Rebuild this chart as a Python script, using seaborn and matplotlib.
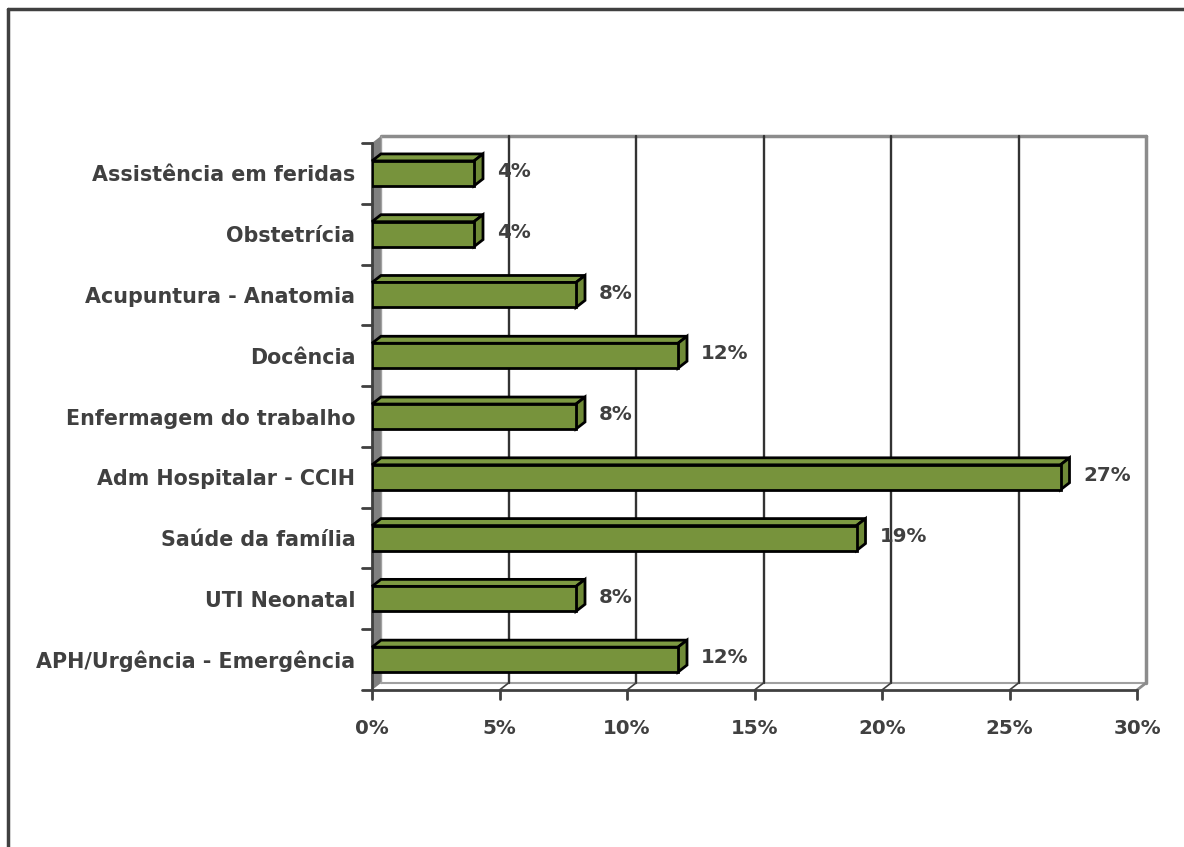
import numpy as np
import pandas as pd
import matplotlib
matplotlib.use("Agg")
import matplotlib.pyplot as plt
import seaborn as sns
from matplotlib.patches import Polygon
from matplotlib.lines import Line2D

# Data (top to bottom as shown)
categories = ["Assistência em feridas", "Obstetrícia", "Acupuntura - Anatomia",
              "Docência", "Enfermagem do trabalho", "Adm Hospitalar - CCIH",
              "Saúde da família", "UTI Neonatal", "APH/Urgência - Emergência"]
values = [4, 4, 8, 12, 8, 27, 19, 8, 12]
x_ticks = [0, 5, 10, 15, 20, 25, 30]

df = pd.DataFrame({"area": categories, "pct": values})

sns.set_style("white")
plt.rcParams["font.family"] = ["DejaVu Sans"]

W, H = 1184, 847
fig = plt.figure(figsize=(W / 100, H / 100), dpi=100)
ax = fig.add_axes([372 / W, 1 - 690 / H, (1137 - 372) / W, (690 - 143) / H])

green = "#77933C"
text_col = "#404040"
fs = 14.3
bar_h = 0.41

sns.barplot(data=df, x="pct", y="area", order=categories, orient="h",
            color=green, width=bar_h, saturation=1, edgecolor="black",
            linewidth=2, ax=ax, zorder=5)

ax.set_xlim(0, 30)
ax.set_ylim(len(categories) - 0.5, -0.5)
for s in ax.spines.values():
    s.set_visible(False)

# depth of the 3D look, in data units
ax_w = (1137 - 372)
ax_h = (690 - 143)
dx = 9 / ax_w * 30
dy = 7 / ax_h * len(categories)
y_bot, y_top = len(categories) - 0.5, -0.5

# side wall (gray strip on the left)
ax.add_patch(Polygon([(0, y_bot), (dx, y_bot - dy), (dx, y_top - dy), (0, y_top)],
                     closed=True, facecolor="#808080", edgecolor="none",
                     clip_on=False, zorder=1))
# back wall frame
ax.add_line(Line2D([dx, 30 + dx], [y_top - dy, y_top - dy], color="#8c8c8c", lw=2.5, clip_on=False, zorder=2))
ax.add_line(Line2D([30 + dx, 30 + dx], [y_top - dy, y_bot - dy], color="#8c8c8c", lw=2.5, clip_on=False, zorder=2))
ax.add_line(Line2D([dx, dx], [y_top - dy, y_bot - dy], color="#a0a0a0", lw=1, clip_on=False, zorder=2))
# floor
ax.add_line(Line2D([dx, 30 + dx], [y_bot - dy, y_bot - dy], color="#a0a0a0", lw=1.5, clip_on=False, zorder=2))
ax.add_line(Line2D([30, 30 + dx], [y_bot, y_bot - dy], color="#8c8c8c", lw=2, clip_on=False, zorder=2))
# gridlines on the back wall
for t in x_ticks[1:-1]:
    ax.add_line(Line2D([t + dx, t + dx], [y_top - dy, y_bot - dy], color="#333333", lw=1.7, clip_on=False, zorder=2))
    ax.add_line(Line2D([t, t + dx], [y_bot, y_bot - dy], color="#404040", lw=1.2, clip_on=False, zorder=2))

# front axes lines
ax.add_line(Line2D([0, 30], [y_bot, y_bot], color="#404040", lw=2, clip_on=False, zorder=3))
ax.add_line(Line2D([0, 0], [y_top, y_bot], color="#404040", lw=2, clip_on=False, zorder=3))

# 3D faces of the bars
for i, v in enumerate(values):
    yt = i - bar_h / 2
    yb = i + bar_h / 2
    top = Polygon([(0, yt), (v, yt), (v + dx, yt - dy), (dx, yt - dy)], closed=True,
                  facecolor="#7d9a42", edgecolor="black", lw=2, zorder=4, clip_on=False)
    side = Polygon([(v, yt), (v + dx, yt - dy), (v + dx, yb - dy), (v, yb)], closed=True,
                   facecolor="#6f8a37", edgecolor="black", lw=2, zorder=4, clip_on=False)
    ax.add_patch(top)
    ax.add_patch(side)
    ax.text(v + dx + 0.55, i - 0.03, f"{v}%", ha="left", va="center",
            fontsize=fs, fontweight="bold", color=text_col, zorder=6)

# ticks
ax.set_xticks(x_ticks)
ax.set_xticklabels([f"{t}%" for t in x_ticks])
ax.set_yticks(np.arange(len(categories)))
ax.set_yticklabels(categories)
ax.tick_params(axis="y", length=0, pad=12, labelsize=14.9, labelcolor=text_col)
ax.tick_params(axis="x", length=0, pad=21, labelsize=fs, labelcolor=text_col)
for lab in ax.get_xticklabels() + ax.get_yticklabels():
    lab.set_fontweight("bold")
# tick marks
for t in x_ticks:
    ax.add_line(Line2D([t, t], [y_bot, y_bot + 0.14], color="#404040", lw=2, clip_on=False, zorder=3))
for b in np.arange(-0.5, len(categories), 1.0):
    ax.add_line(Line2D([-0.4, 0], [b, b], color="#404040", lw=2, clip_on=False, zorder=3))

ax.set_xlabel("")
ax.set_ylabel("")

# outer frame (left and top only visible)
fig.add_artist(Line2D([8 / W, 8 / W], [0, 1 - 9 / H], color="#404040", lw=2.5))
fig.add_artist(Line2D([8 / W, 1], [1 - 9 / H, 1 - 9 / H], color="#404040", lw=2.5))

fig.savefig("out.png", dpi=100)
